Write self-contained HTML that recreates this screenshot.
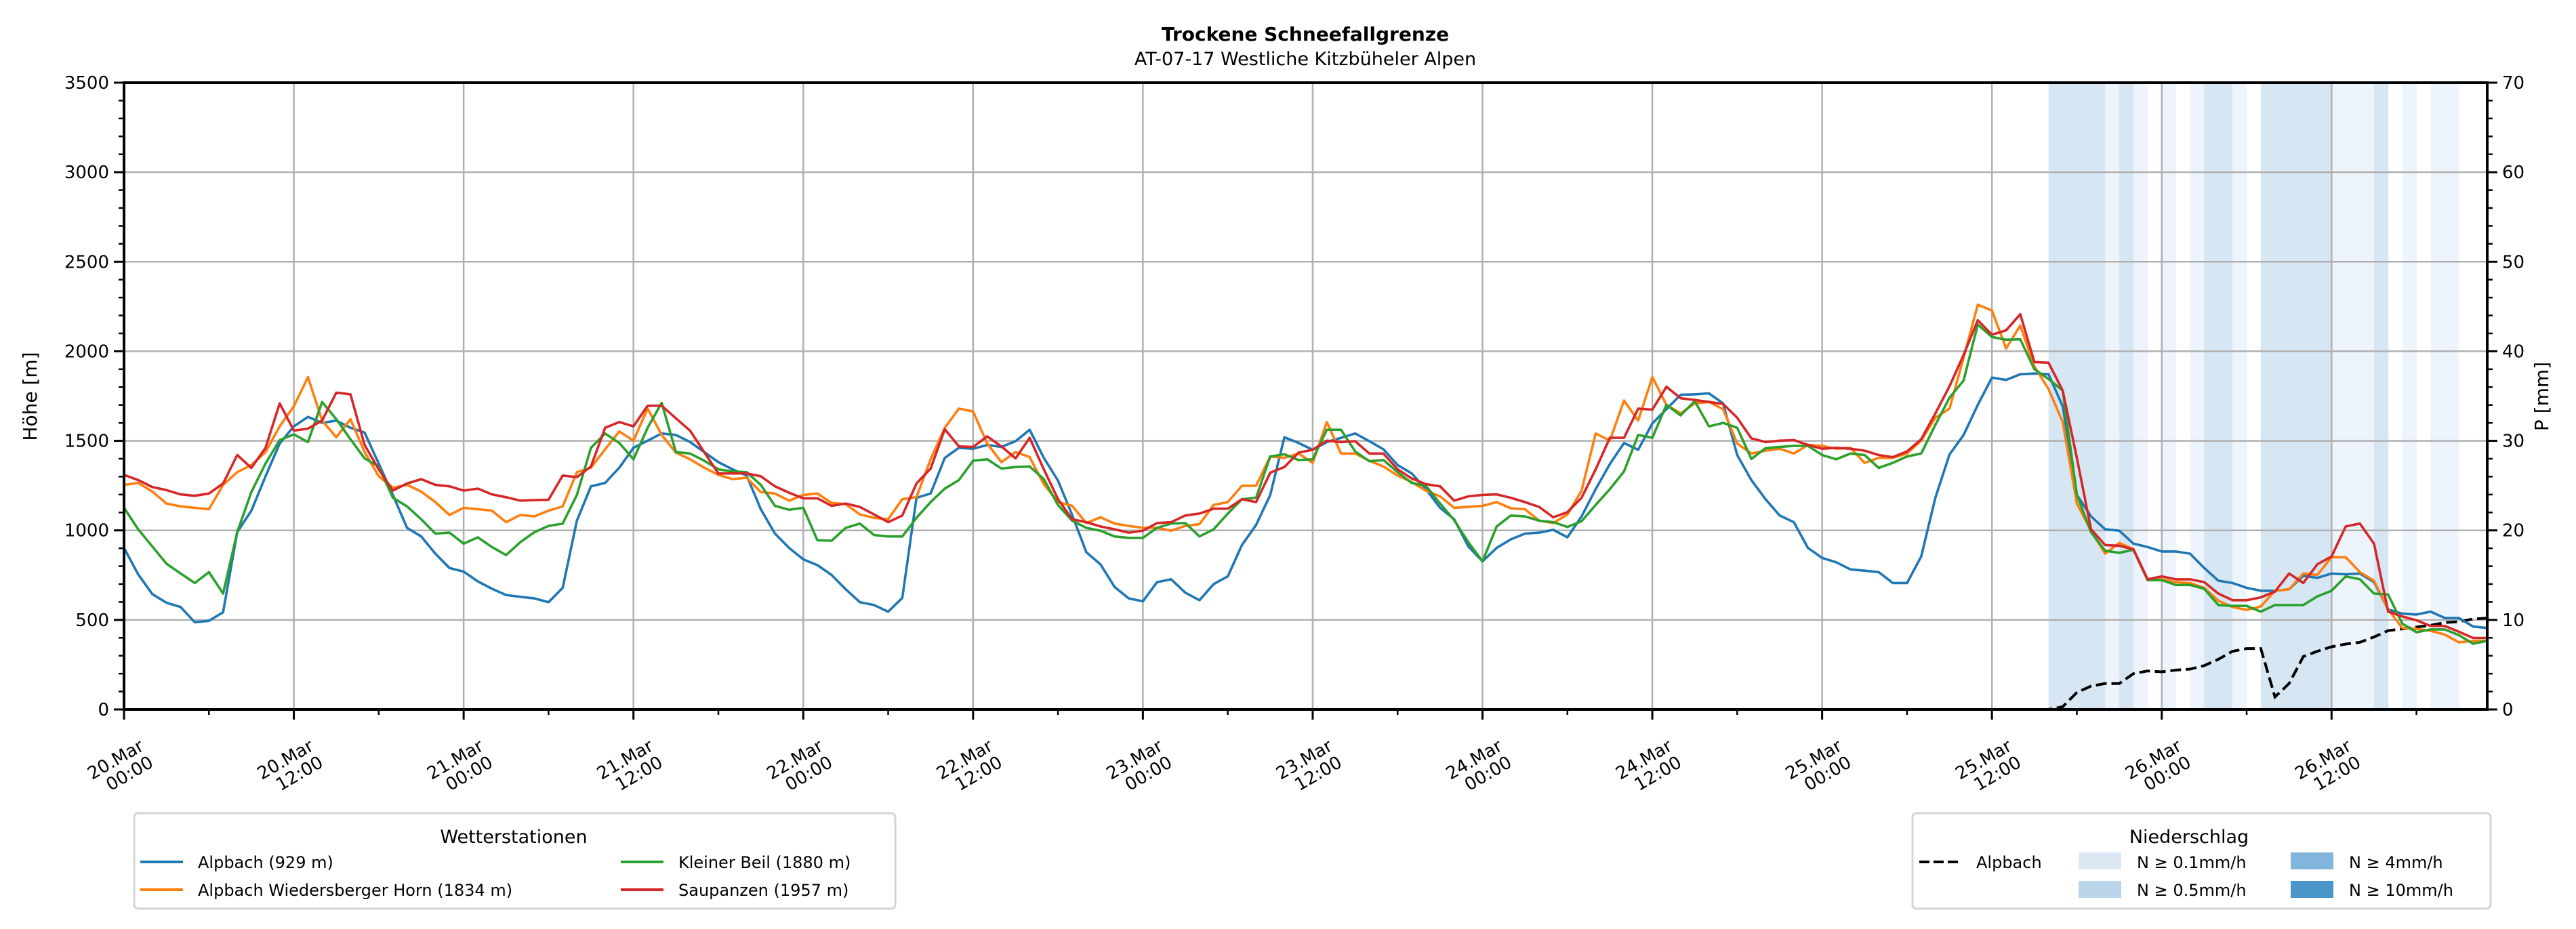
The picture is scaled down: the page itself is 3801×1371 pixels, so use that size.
<!DOCTYPE html>
<html><head><meta charset="utf-8"><style>
html,body{margin:0;padding:0;background:#fff}
svg{display:block;font-family:"DejaVu Sans","Liberation Sans",sans-serif}
</style></head><body>
<svg id="chart" xmlns="http://www.w3.org/2000/svg" width="3801" height="1371" viewBox="0 0 3801 1371">
<rect width="3801" height="1371" fill="#fff"/>
<text x="1926" y="60" text-anchor="middle" font-size="28" font-weight="bold">Trockene Schneefallgrenze</text>
<text x="1926" y="96" text-anchor="middle" font-size="27">AT-07-17 Westliche Kitzbüheler Alpen</text>
<g id="bands"></g>
<g id="grid"></g>
<g id="series"></g>
<g id="axes"></g>
<text transform="translate(54,585) rotate(-90)" text-anchor="middle" font-size="28">Höhe [m]</text>
<text transform="translate(3760,585) rotate(-90)" text-anchor="middle" font-size="28">P [mm]</text>

<g>
<rect x="198" y="1200" width="1123" height="141" rx="6" fill="#fff" stroke="#d4d4d4" stroke-width="3"/>
<text x="758" y="1244" text-anchor="middle" font-size="27">Wetterstationen</text>
<g><line x1="207" y1="1272" x2="270" y2="1272" stroke="#1f77b4" stroke-width="4"/><text x="292" y="1281" font-size="24">Alpbach (929 m)</text></g>
<g><line x1="207" y1="1313" x2="270" y2="1313" stroke="#ff7f0e" stroke-width="4"/><text x="292" y="1322" font-size="24">Alpbach Wiedersberger Horn (1834 m)</text></g>
<g><line x1="916" y1="1272" x2="979" y2="1272" stroke="#2ca02c" stroke-width="4"/><text x="1001" y="1281" font-size="24">Kleiner Beil (1880 m)</text></g>
<g><line x1="916" y1="1313" x2="979" y2="1313" stroke="#d62728" stroke-width="4"/><text x="1001" y="1322" font-size="24">Saupanzen (1957 m)</text></g>
</g>

<g>
<rect x="2822" y="1200" width="853" height="141" rx="6" fill="#fff" stroke="#d4d4d4" stroke-width="3"/>
<text x="3230" y="1244" text-anchor="middle" font-size="27">Niederschlag</text>
<g><line x1="2832" y1="1272" x2="2895" y2="1272" stroke="#000" stroke-width="4" stroke-dasharray="15,6"/><text x="2916" y="1281" font-size="24">Alpbach</text></g>
<g><rect x="3067" y="1258" width="63" height="25" fill="#dce9f5"/><text x="3153" y="1281" font-size="24">N ≥ 0.1mm/h</text></g>
<g><rect x="3067" y="1300" width="63" height="25" fill="#bad4ea"/><text x="3153" y="1322" font-size="24">N ≥ 0.5mm/h</text></g>
<g><rect x="3380" y="1258" width="63" height="25" fill="#81b5db"/><text x="3466" y="1281" font-size="24">N ≥ 4mm/h</text></g>
<g><rect x="3380" y="1300" width="63" height="25" fill="#4a96c9"/><text x="3466" y="1322" font-size="24">N ≥ 10mm/h</text></g>
</g>
</svg>
<script>
const alpbach = [902,754,644,596,572,487,495,543,990,1110,1302,1485,1581,1634,1600,1613,1573,1546,1373,1198,1014,966,870,790,770,715,674,639,629,
620,599,679,1054,1246,1265,1350,1461,1501,1541,1533,1493,1437,1381,1341,1306,1118,982,902,838,806,751,671,599,583,546,623,1182,
1206,1405,1461,1456,1477,1466,1498,1562,1405,1278,1086,878,811,684,620,604,711,727,652,610,700,743,918,1030,1198,1520,1488,1450,
1493,1517,1541,1498,1453,1365,1318,1230,1126,1062,910,827,902,950,982,987,1003,961,1078,1230,1370,1488,1450,1597,1677,1757,1760,1765,
1709,1421,1281,1174,1083,1046,902,846,822,782,775,767,706,706,854,1182,1424,1533,1701,1853,1840,1872,1876,1872,1693,1198,1078,1006,
998,926,907,882,882,870,790,719,706,679,663,663,671,747,735,759,755,759,711,559,535,530,546,511,511,463,455];
const wiedersberg = [1254,1265,1217,1150,1134,1126,1118,1254,1325,1365,1437,1581,1693,1856,1613,1520,1621,1437,1302,1238,1254,1217,1158,1086,1126,1118,1110,1046,1086,
1078,1110,1134,1325,1350,1453,1552,1501,1680,1533,1434,1397,1350,1310,1286,1294,1214,1206,1166,1198,1206,1153,1147,1089,1070,1062,1174,1185,
1397,1573,1680,1664,1485,1381,1437,1409,1258,1158,1137,1041,1073,1038,1025,1014,1014,998,1025,1035,1142,1158,1249,1249,1413,1405,1429,1377,
1605,1429,1429,1389,1357,1306,1270,1222,1190,1126,1131,1137,1158,1123,1118,1054,1041,1089,1222,1541,1501,1725,1613,1856,1701,1653,1709,1717,
1677,1485,1429,1445,1456,1429,1477,1472,1456,1461,1377,1405,1405,1429,1501,1629,1680,1964,2260,2228,2016,2144,1916,1789,1605,1150,998,870,
930,894,727,727,711,706,679,607,572,556,575,663,671,759,751,850,850,767,719,559,455,450,439,418,375,383,383];
const kleinerBeil = [1126,1006,910,814,759,706,767,647,990,1214,1373,1504,1536,1493,1717,1621,1509,1402,1357,1182,1134,1062,982,987,926,961,907,862,934,
990,1025,1038,1198,1461,1541,1488,1397,1573,1712,1437,1429,1389,1341,1329,1325,1254,1137,1115,1126,945,942,1014,1038,974,966,966,1070,
1158,1233,1281,1389,1397,1345,1354,1357,1286,1142,1054,1014,998,966,958,958,1014,1038,1041,966,1006,1094,1174,1182,1413,1425,1393,1397,
1562,1562,1441,1386,1393,1325,1265,1249,1150,1057,934,827,1022,1083,1078,1054,1046,1019,1051,1142,1230,1329,1533,1517,1701,1642,1722,1581,
1600,1573,1399,1459,1466,1472,1472,1421,1397,1429,1421,1349,1377,1413,1429,1589,1741,1837,2149,2080,2065,2067,1900,1845,1781,1198,990,886,
875,891,722,722,695,695,674,583,578,578,546,583,583,583,631,663,743,727,647,642,479,431,447,447,415,367,383];
const saupanzen = [1310,1281,1242,1225,1201,1193,1206,1262,1421,1349,1461,1709,1557,1568,1613,1769,1760,1477,1341,1222,1262,1286,1254,1246,1222,1233,1201,1185,1166,
1169,1171,1306,1297,1357,1573,1605,1581,1696,1696,1626,1557,1437,1318,1318,1318,1302,1246,1210,1179,1179,1137,1150,1131,1089,1046,1083,1262,
1345,1565,1469,1466,1525,1469,1402,1517,1341,1174,1062,1046,1022,1006,987,998,1041,1046,1083,1094,1121,1121,1174,1158,1322,1354,1434,1450,
1501,1493,1498,1429,1429,1341,1290,1258,1246,1166,1190,1198,1201,1182,1158,1131,1073,1102,1182,1341,1517,1517,1680,1674,1802,1738,1728,1717,
1706,1629,1514,1493,1501,1504,1477,1456,1461,1456,1445,1421,1409,1441,1509,1653,1805,1980,2173,2093,2117,2207,1940,1936,1781,1405,1006,918,
914,894,727,743,727,727,711,647,610,610,626,658,759,706,811,854,1022,1038,926,546,519,498,466,466,434,399,399];
const precipStartHour = 136;
const precipCum = [0,0.3,1.9,2.6,2.9,2.9,4.0,4.3,4.2,4.4,4.5,4.9,5.6,6.5,6.8,6.8,1.4,2.9,5.9,6.5,7.0,7.3,7.5,8.1,8.8,9.0,9.2,9.4,9.7,9.8,10.1,10.2];
const intensityLevel = [2,2,2,2,1,2,1,0,1,0,1,2,2,1,0,2,2,2,2,2,1,1,1,2,0,1,0,1,1,0,0];
const xTickLabels = ["20.Mar|00:00","20.Mar|12:00","21.Mar|00:00","21.Mar|12:00","22.Mar|00:00","22.Mar|12:00","23.Mar|00:00","23.Mar|12:00","24.Mar|00:00","24.Mar|12:00","25.Mar|00:00","25.Mar|12:00","26.Mar|00:00","26.Mar|12:00"];
const yTicks = [0,500,1000,1500,2000,2500,3000,3500];
const y2Ticks = [0,10,20,30,40,50,60,70];

const NS="http://www.w3.org/2000/svg";
const L=183,R=3670,T=122,B=1047,HMAX=167;
const xs=h=>L+(R-L)*h/HMAX;
const ys=v=>B-(B-T)*v/3500;
const ys2=p=>B-(B-T)*p/70;
function mk(tag,attrs,parent){const e=document.createElementNS(NS,tag);for(const k in attrs)e.setAttribute(k,attrs[k]);parent.appendChild(e);return e;}
const bands=document.getElementById('bands'),grid=document.getElementById('grid'),series=document.getElementById('series'),axes=document.getElementById('axes');
const bandCol=["none","#eef4fb","#d7e6f3"];
intensityLevel.forEach((lv,i)=>{
  if(!lv)return;
  const h=precipStartHour+i;
  const r=mk('rect',{x:xs(h),y:T,width:xs(h+1)-xs(h)+0.5,height:B-T,fill:bandCol[lv]},bands);
  
  
});
xTickLabels.forEach((lab,i)=>{
  const x=xs(i*12);
  const g=mk('line',{x1:x,y1:T,x2:x,y2:B,stroke:'#b0b0b0','stroke-width':2.5},grid);
  
  
});
yTicks.forEach(v=>{
  const y=ys(v);
  const g=mk('line',{x1:L,y1:y,x2:R,y2:y,stroke:'#b0b0b0','stroke-width':2.5},grid);
  
  
});
// precipitation cumulative line
const pPts=[];
for(let h=0;h<=HMAX;h++){const p=h<precipStartHour?0:precipCum[h-precipStartHour];pPts.push(xs(h).toFixed(1)+','+ys2(p).toFixed(1));}
const pl=mk('polyline',{points:pPts.join(' '),fill:'none',stroke:'#000','stroke-width':4,'stroke-dasharray':'16,7'},series);


const defs=[[alpbach,'#1f77b4','line-alpbach'],[wiedersberg,'#ff7f0e','line-wiedersberger-horn'],[kleinerBeil,'#2ca02c','line-kleiner-beil'],[saupanzen,'#d62728','line-saupanzen']];
defs.forEach(([arr,col,name])=>{
  const pts=arr.map((v,h)=>xs(h).toFixed(1)+','+ys(v).toFixed(1)).join(' ');
  const p=mk('polyline',{points:pts,fill:'none',stroke:col,'stroke-width':3.6,'stroke-linejoin':'round'},series);
  
  
});
// axes frame
const fr=mk('rect',{x:L,y:T,width:R-L,height:B-T,fill:'none',stroke:'#000','stroke-width':4},axes);


// y ticks
for(let v=0;v<=3500;v+=100){
  const maj=v%500===0;
  const t=mk('line',{x1:L-(maj?15:8),y1:ys(v),x2:L,y2:ys(v),stroke:'#000','stroke-width':maj?3:2.5},axes);
  
  
}
yTicks.forEach(v=>{
  const t=mk('text',{x:L-22,y:ys(v)+9,'text-anchor':'end','font-size':26},axes);
  t.textContent=v;
  
  
});
for(let p=0;p<=70;p+=2){
  const maj=p%10===0;
  const t=mk('line',{x1:R,y1:ys2(p),x2:R+(maj?15:8),y2:ys2(p),stroke:'#000','stroke-width':maj?3:2.5},axes);
  
  
}
y2Ticks.forEach(p=>{
  const t=mk('text',{x:R+22,y:ys2(p)+9,'text-anchor':'start','font-size':26},axes);
  t.textContent=p;
  
  
});
for(let h=0;h<=HMAX;h+=6){
  const maj=h%12===0;
  const t=mk('line',{x1:xs(h),y1:B,x2:xs(h),y2:B+(maj?15:8),stroke:'#000','stroke-width':maj?3:2.5},axes);
  
  
}
xTickLabels.forEach((lab,i)=>{
  const x=xs(i*12);
  const parts=lab.split('|');
  const t=mk('text',{transform:`translate(${(x+31).toFixed(1)},1106) rotate(-30)`,'text-anchor':'end','font-size':26},axes);
  
  
  const a=mk('tspan',{x:0,dy:0},t);a.textContent=parts[0];
  const b=mk('tspan',{x:0,dy:28},t);b.textContent=parts[1];
});
</script>
</body></html>
